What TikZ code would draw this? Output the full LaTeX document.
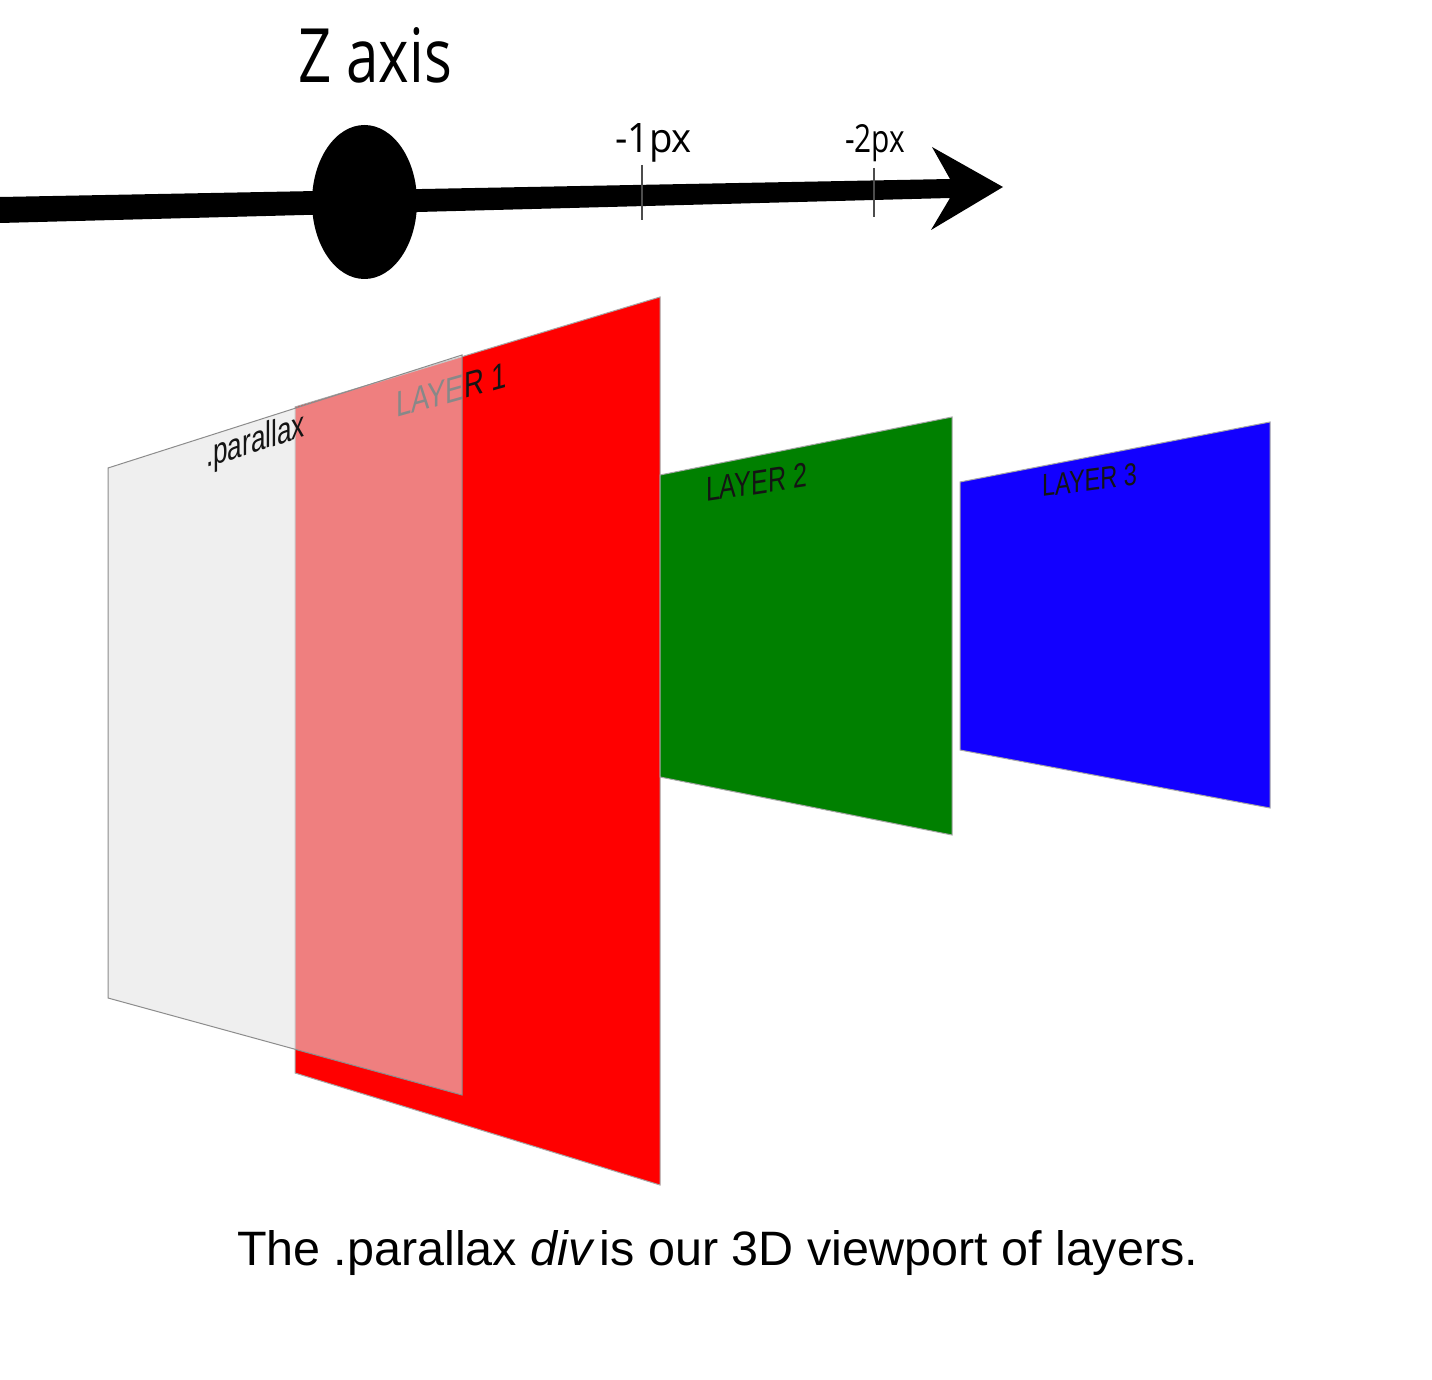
\documentclass[tikz,border=0pt]{standalone}
\usepackage{fontspec}
\usepackage{graphicx}
\setmainfont{Liberation Sans}
\newfontfamily\axisfont{Open Sans}
\definecolor{layerred}{RGB}{255,0,0}
\definecolor{layergreen}{RGB}{0,128,0}
\definecolor{layerblue}{RGB}{18,0,255}
\definecolor{pargray}{RGB}{228,228,228}
\definecolor{labelink}{RGB}{20,20,20}
\begin{document}
\begin{tikzpicture}[x=0.5pt,y=-0.5pt,
  lbl/.style={inner sep=0pt, outer sep=0pt, anchor=base west},
  planeedge/.style={draw=black!35, line width=0.5pt, line join=miter},
  tickmark/.style={draw=black!70, line width=1pt}]
\path[fill=white,use as bounding box] (0,0) rectangle (1432,1380);

% Z axis arrow
\fill[black] (0,197) -- (950,179) -- (932,147) -- (1003,187) -- (931,230) -- (950,198) -- (0,223) -- cycle;
\fill[black] (364.5,202) ellipse [x radius=52.5, y radius=77];
\coordinate (t1a) at (642,165); \coordinate (t1b) at (642,220);
\coordinate (t2a) at (874,168); \coordinate (t2b) at (874,217);
\draw[tickmark] (t1a) -- (t1b);
\draw[tickmark] (t2a) -- (t2b);

\node[lbl] (zlabel) at (298,83) {\axisfont\resizebox{77pt}{27.5pt}{Z axis}};
\node[lbl] (m1) at (615,153) {\axisfont\resizebox{38.5pt}{14.5pt}{-1px}};
\node[lbl] (m2) at (845,153) {\axisfont\resizebox{30pt}{14pt}{-2px}};

% Layer 1
\filldraw[fill=layerred, planeedge] (295,407) -- (660,297) -- (660,1185) -- (295,1073) -- cycle;
\begin{scope}[shift={(396,418)}, cm={1,0.28,0,1,(0,0)}]
  \node[lbl, transform shape, text=labelink] (l1) at (0,0) {\resizebox{55.5pt}{12.5pt}{LAYER 1}};
\end{scope}

% Layer 2
\filldraw[fill=layergreen, planeedge] (660,475) -- (952,417) -- (952,835) -- (660,777) -- cycle;
\begin{scope}[shift={(706,502)}, cm={1,0.15,0,1,(0,0)}]
  \node[lbl, transform shape, text=labelink] (l2) at (0,0) {\resizebox{50.5pt}{12pt}{LAYER 2}};
\end{scope}

% Layer 3
\filldraw[fill=layerblue, planeedge] (960,482) -- (1270,422) -- (1270,808) -- (960,750) -- cycle;
\begin{scope}[shift={(1042,497)}, cm={1,0.13,0,1,(0,0)}]
  \node[lbl, transform shape, text=labelink] (l3) at (0,0) {\resizebox{47.5pt}{11pt}{LAYER 3}};
\end{scope}

% parallax viewport (translucent)
\filldraw[fill=pargray, fill opacity=0.56, draw=black!45, line width=0.5pt] (108,468) -- (462,355) -- (462,1095) -- (108,998) -- cycle;
\begin{scope}[shift={(206,468)}, cm={1,0.32,0,1,(0,0)}]
  \node[lbl, transform shape, text=labelink] (plabel) at (0,0) {\resizebox{49.5pt}{13.5pt}{.parallax}};
\end{scope}

% caption
\node[lbl] (caption) at (237,1265) {\resizebox{480.5pt}{17.5pt}{The .parallax {\itshape div}\hspace{0.15em}is our 3D viewport of layers.}};
\end{tikzpicture}
\end{document}
